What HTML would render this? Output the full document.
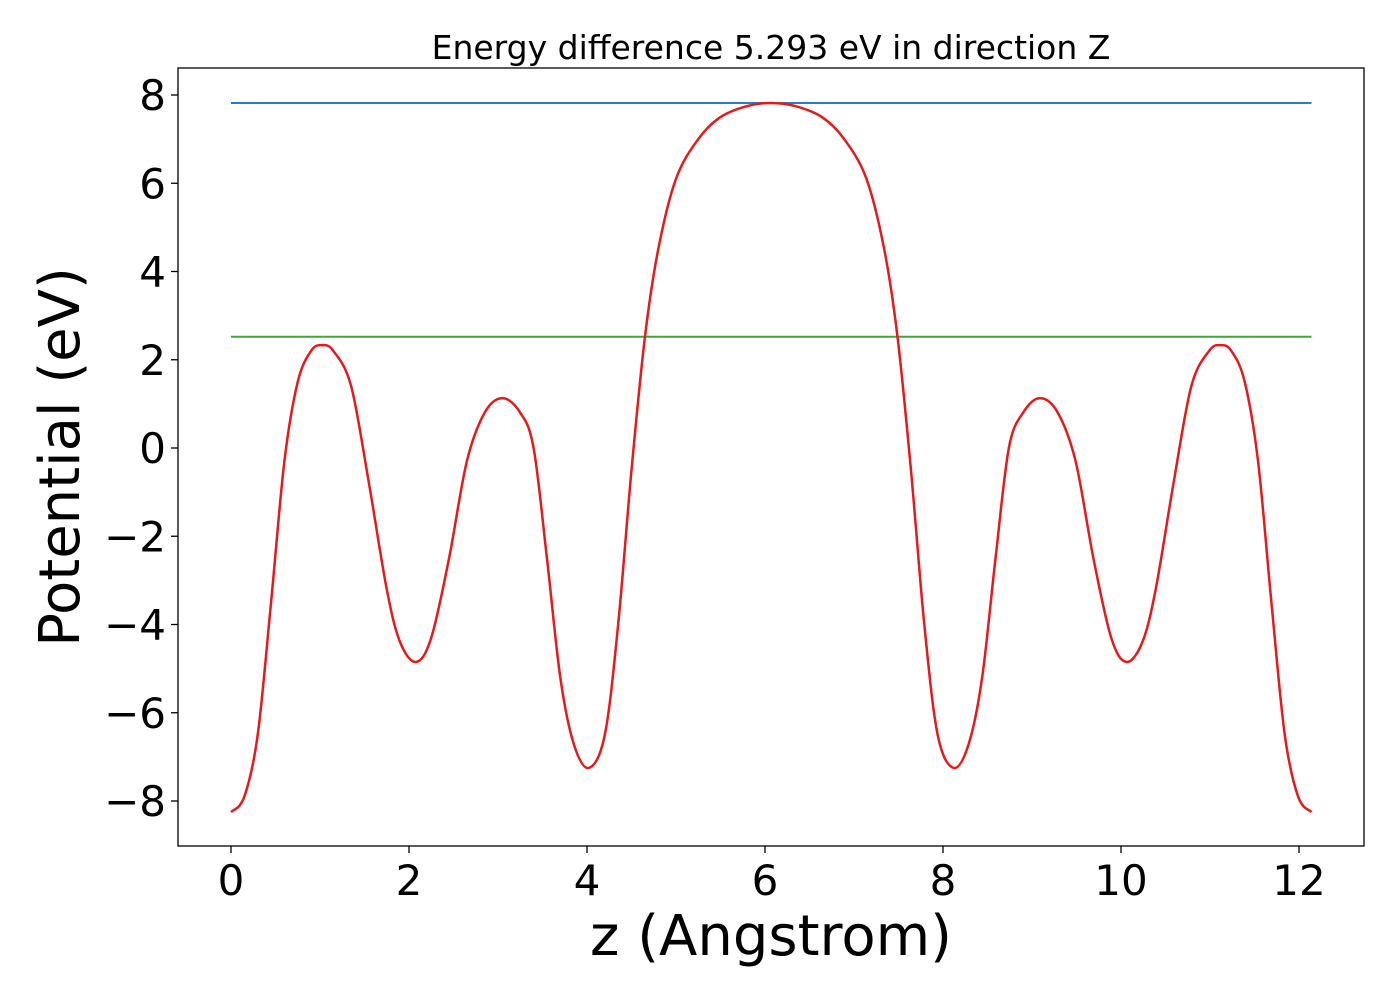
<!DOCTYPE html>
<html><head><meta charset="utf-8"><style>
body{margin:0;background:#fff;}
svg text{font-family:"DejaVu Sans","Liberation Sans",sans-serif;fill:#000;}
</style></head><body>
<svg id="chart" width="1400" height="1000" xmlns="http://www.w3.org/2000/svg">
<rect width="1400" height="1000" fill="#fff"/>
<g id="ticks"></g>
<g id="series"></g>
<rect x="178" y="68" width="1186" height="778" fill="none" stroke="#000" stroke-width="1.3"/>
<text x="771" y="59" font-size="33" text-anchor="middle">Energy difference 5.293 eV in direction Z</text>
<text x="771" y="955" font-size="56" text-anchor="middle">z (Angstrom)</text>
<text transform="translate(79,457) rotate(-90)" font-size="56" text-anchor="middle">Potential (eV)</text>
</svg>
<script>
const xTicks=[0,2,4,6,8,10,12];
const yTicks=[-8,-6,-4,-2,0,2,4,6,8];
const zValues=[0,0.15,0.3,0.45,0.6,0.75,0.9,1.02,1.15,1.35,1.55,1.75,1.9,2.08,2.25,2.45,2.65,2.85,3.05,3.25,3.4,3.55,3.7,3.85,4.02,4.2,4.35,4.5,4.65,4.8,5.0,5.25,5.5,5.8,6.07,
6.34,6.64,6.89,7.14,7.34,7.49,7.64,7.79,7.94,8.12,8.29,8.44,8.59,8.74,8.9,9.09,9.29,9.49,9.69,9.89,10.06,10.24,10.39,10.59,10.79,10.99,11.12,11.24,11.39,11.54,11.69,11.84,11.99,12.14];
const potential=[-8.25,-7.9,-6.5,-3.5,-0.3,1.5,2.2,2.33,2.2,1.4,-0.8,-3.2,-4.4,-4.85,-4.3,-2.5,-0.3,0.8,1.13,0.8,0.0,-2.5,-5.2,-6.7,-7.25,-6.5,-4.0,-0.5,2.5,4.5,6.1,7.0,7.5,7.75,7.82,
7.75,7.5,7.0,6.1,4.5,2.5,-0.5,-4.0,-6.5,-7.25,-6.7,-5.2,-2.5,0.0,0.8,1.13,0.8,-0.3,-2.5,-4.3,-4.85,-4.4,-3.2,-0.8,1.4,2.2,2.33,2.2,1.5,-0.3,-3.5,-6.5,-7.9,-8.25];
const levelValues=[7.82,2.52];
const levelColors=["#2b7bcb","#3aaa35"];
const zRange=[0,12.14];

const sx=v=>231+v*89;
const sy=v=>448-v*44.125;
const NS="http://www.w3.org/2000/svg";
const tg=document.getElementById('ticks'), sg=document.getElementById('series');
function mk(tag,attrs,parent){const e=document.createElementNS(NS,tag);for(const k in attrs)e.setAttribute(k,attrs[k]);parent.appendChild(e);return e;}
xTicks.forEach(t=>{
  const l=mk('line',{x1:sx(t),x2:sx(t),y1:846,y2:853,stroke:'#000','stroke-width':1.3},tg);
  
  
  const tx=mk('text',{x:sx(t),y:895,'font-size':42,'text-anchor':'middle'},tg);
  tx.textContent=String(t);
  
  
});
yTicks.forEach(t=>{
  const l=mk('line',{x1:171,x2:178,y1:sy(t),y2:sy(t),stroke:'#000','stroke-width':1.3},tg);
  
  
  const tx=mk('text',{x:166,y:sy(t)+15,'font-size':42,'text-anchor':'end'},tg);
  tx.textContent=(t<0?'\u2212':'')+Math.abs(t);
  
  
});
levelValues.forEach((v,i)=>{
  const l=mk('line',{x1:sx(zRange[0]),x2:sx(zRange[1]),y1:sy(v),y2:sy(v),stroke:levelColors[i],'stroke-width':2},sg);
  
  
});
// Catmull-Rom smooth path
const pts=zValues.map((z,i)=>[sx(z),sy(potential[i])]);
let d='M'+pts[0][0]+','+pts[0][1];
for(let i=0;i<pts.length-1;i++){
  const p0=pts[Math.max(0,i-1)],p1=pts[i],p2=pts[i+1],p3=pts[Math.min(pts.length-1,i+2)];
  const c1=[p1[0]+(p2[0]-p0[0])/6,p1[1]+(p2[1]-p0[1])/6];
  const c2=[p2[0]-(p3[0]-p1[0])/6,p2[1]-(p3[1]-p1[1])/6];
  d+=` C${c1[0]},${c1[1]} ${c2[0]},${c2[1]} ${p2[0]},${p2[1]}`;
}
const path=mk('path',{d:d,fill:'none',stroke:'#e41a1c','stroke-width':2.5},sg);


</script>
</body></html>
